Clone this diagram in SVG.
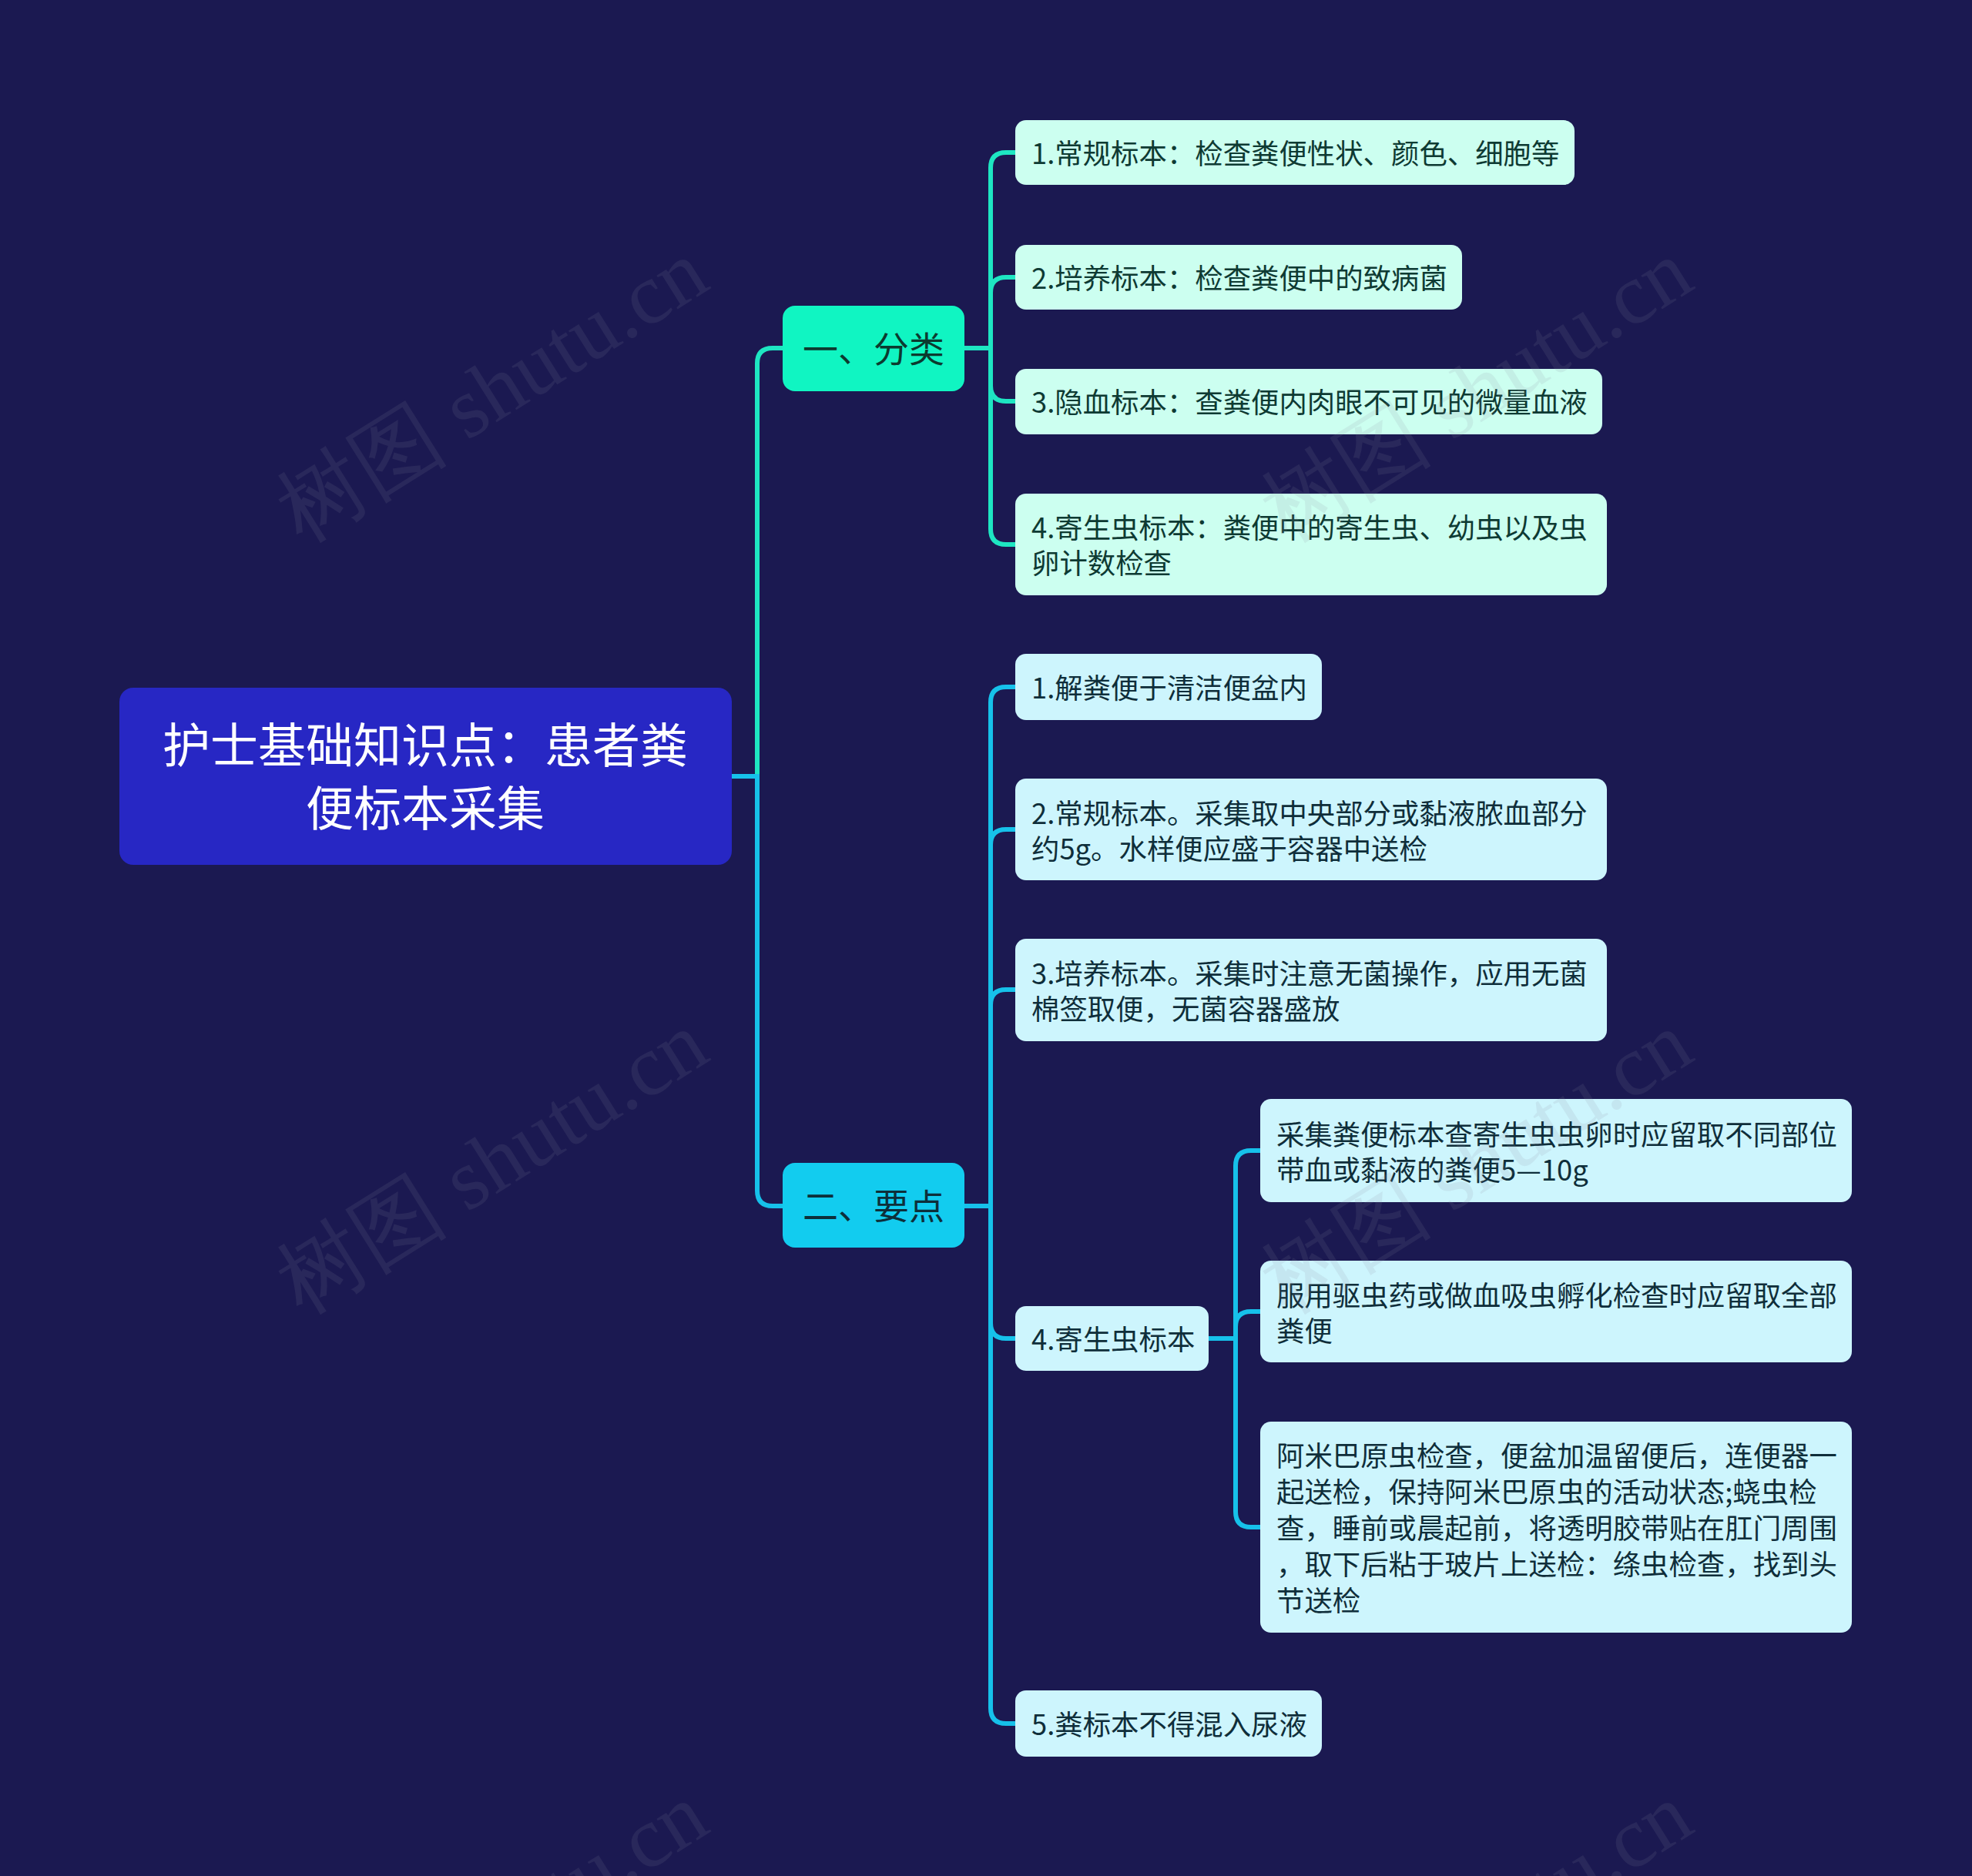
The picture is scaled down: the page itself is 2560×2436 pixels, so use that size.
<svg xmlns="http://www.w3.org/2000/svg" width="2560" height="2436" viewBox="0 0 2560 2436">
<style>
text{font-family:"Noto Sans CJK SC","Noto Sans",sans-serif;dominant-baseline:central}
.leaf1{fill:#ccfff0}
.leaf2{fill:#cdf5fd}
.t1{font-size:36.4px;fill:#0e3a33}
.t2{font-size:36.4px;fill:#0f2e3a}
.c1{fill:none;stroke:#1ee6c2;stroke-width:6;stroke-linecap:round}
.c2{fill:none;stroke:#16c1ea;stroke-width:6;stroke-linecap:round}
.wm{font-family:"Liberation Serif",serif;font-size:112px;fill:#8a8aa0;opacity:0.13;dominant-baseline:auto}
</style>
<rect x="0" y="0" width="2560" height="2436" fill="#1b1951"/>
<g id="connectors">
<path class="c1" d="M983,1008 V472 Q983,452 1003,452 H1016"/>
<path class="c2" d="M950,1008 H983 V1546 Q983,1566 1003,1566 H1016"/>
<path class="c1" d="M1252,452 H1286"/>
<path class="c1" d="M1286,452 V218 Q1286,198 1306,198 H1318"/>
<path class="c1" d="M1286,452 V380 Q1286,360 1306,360 H1318"/>
<path class="c1" d="M1286,452 V501 Q1286,521 1306,521 H1318"/>
<path class="c1" d="M1286,452 V687 Q1286,707 1306,707 H1318"/>
<path class="c2" d="M1252,1566 H1286"/>
<path class="c2" d="M1286,1566 V912 Q1286,892 1306,892 H1318"/>
<path class="c2" d="M1286,1566 V1097 Q1286,1077 1306,1077 H1318"/>
<path class="c2" d="M1286,1566 V1305 Q1286,1285 1306,1285 H1318"/>
<path class="c2" d="M1286,1566 V1718 Q1286,1738 1306,1738 H1318"/>
<path class="c2" d="M1286,1566 V2218 Q1286,2238 1306,2238 H1318"/>
<path class="c2" d="M1569,1738 H1604"/>
<path class="c2" d="M1604,1738 V1514 Q1604,1494 1624,1494 H1636"/>
<path class="c2" d="M1604,1738 V1723 Q1604,1703 1624,1703 H1636"/>
<path class="c2" d="M1604,1738 V1963 Q1604,1983 1624,1983 H1636"/>
</g>
<g id="root">
<rect x="155" y="893" width="795" height="230" rx="18" fill="#2727c4"/>
<text x="552" y="964" font-size="62" fill="#ffffff" text-anchor="middle">护士基础知识点：患者粪</text>
<text x="552" y="1046" font-size="62" fill="#ffffff" text-anchor="middle">便标本采集</text>
</g>
<g id="n-fenlei">
<rect x="1016" y="397" width="236" height="111" rx="16" fill="#10f5c2"/>
<text x="1134" y="450" font-size="46" fill="#0c3a2f" text-anchor="middle">一、分类</text>
</g>
<g id="n-yaodian">
<rect x="1016" y="1510" width="236" height="110" rx="16" fill="#12ccef"/>
<text x="1134" y="1563" font-size="46" fill="#0d2f3a" text-anchor="middle">二、要点</text>
</g>
<g id="a1">
<rect class="leaf1" x="1318" y="156" width="726" height="84" rx="14"/>
<text class="t1" x="1339" y="197">1.常规标本：检查粪便性状、颜色、细胞等</text>
</g>
<g id="a2">
<rect class="leaf1" x="1318" y="318" width="580" height="84" rx="14"/>
<text class="t1" x="1339" y="359">2.培养标本：检查粪便中的致病菌</text>
</g>
<g id="a3">
<rect class="leaf1" x="1318" y="479" width="762" height="85" rx="14"/>
<text class="t1" x="1339" y="520">3.隐血标本：查粪便内肉眼不可见的微量血液</text>
</g>
<g id="a4">
<rect class="leaf1" x="1318" y="641" width="768" height="132" rx="14"/>
<text class="t1" x="1339" y="683">4.寄生虫标本：粪便中的寄生虫、幼虫以及虫</text>
<text class="t1" x="1339" y="729">卵计数检查</text>
</g>
<g id="b1">
<rect class="leaf2" x="1318" y="849" width="398" height="86" rx="14"/>
<text class="t2" x="1339" y="891">1.解粪便于清洁便盆内</text>
</g>
<g id="b2">
<rect class="leaf2" x="1318" y="1011" width="768" height="132" rx="14"/>
<text class="t2" x="1339" y="1054">2.常规标本。采集取中央部分或黏液脓血部分</text>
<text class="t2" x="1339" y="1100">约5g。水样便应盛于容器中送检</text>
</g>
<g id="b3">
<rect class="leaf2" x="1318" y="1219" width="768" height="133" rx="14"/>
<text class="t2" x="1339" y="1262">3.培养标本。采集时注意无菌操作，应用无菌</text>
<text class="t2" x="1339" y="1308">棉签取便，无菌容器盛放</text>
</g>
<g id="b4">
<rect class="leaf2" x="1318" y="1696" width="251" height="84" rx="14"/>
<text class="t2" x="1339" y="1737">4.寄生虫标本</text>
</g>
<g id="b4-1">
<rect class="leaf2" x="1636" y="1427" width="768" height="134" rx="14"/>
<text class="t2" x="1657" y="1471">采集粪便标本查寄生虫虫卵时应留取不同部位</text>
<text class="t2" x="1657" y="1517">带血或黏液的粪便5—10g</text>
</g>
<g id="b4-2">
<rect class="leaf2" x="1636" y="1637" width="768" height="132" rx="14"/>
<text class="t2" x="1657" y="1680">服用驱虫药或做血吸虫孵化检查时应留取全部</text>
<text class="t2" x="1657" y="1726">粪便</text>
</g>
<g id="b4-3">
<rect class="leaf2" x="1636" y="1846" width="768" height="274" rx="14"/>
<text class="t2" x="1657" y="1888">阿米巴原虫检查，便盆加温留便后，连便器一</text>
<text class="t2" x="1657" y="1935">起送检，保持阿米巴原虫的活动状态;蛲虫检</text>
<text class="t2" x="1657" y="1982">查，睡前或晨起前，将透明胶带贴在肛门周围</text>
<text class="t2" x="1657" y="2029">，取下后粘于玻片上送检：绦虫检查，找到头</text>
<text class="t2" x="1657" y="2076">节送检</text>
</g>
<g id="b5">
<rect class="leaf2" x="1318" y="2195" width="398" height="86" rx="14"/>
<text class="t2" x="1339" y="2237">5.粪标本不得混入尿液</text>
</g>
<g id="watermarks">
<text class="wm" x="640" y="545" text-anchor="middle" transform="rotate(-32 640 510)">树图 shutu.cn</text>
<text class="wm" x="640" y="1547" text-anchor="middle" transform="rotate(-32 640 1512)">树图 shutu.cn</text>
<text class="wm" x="1918" y="545" text-anchor="middle" transform="rotate(-32 1918 510)">树图 shutu.cn</text>
<text class="wm" x="1918" y="1547" text-anchor="middle" transform="rotate(-32 1918 1512)">树图 shutu.cn</text>
<text class="wm" x="640" y="2549" text-anchor="middle" transform="rotate(-32 640 2514)">树图 shutu.cn</text>
<text class="wm" x="1918" y="2549" text-anchor="middle" transform="rotate(-32 1918 2514)">树图 shutu.cn</text>
</g>
</svg>
